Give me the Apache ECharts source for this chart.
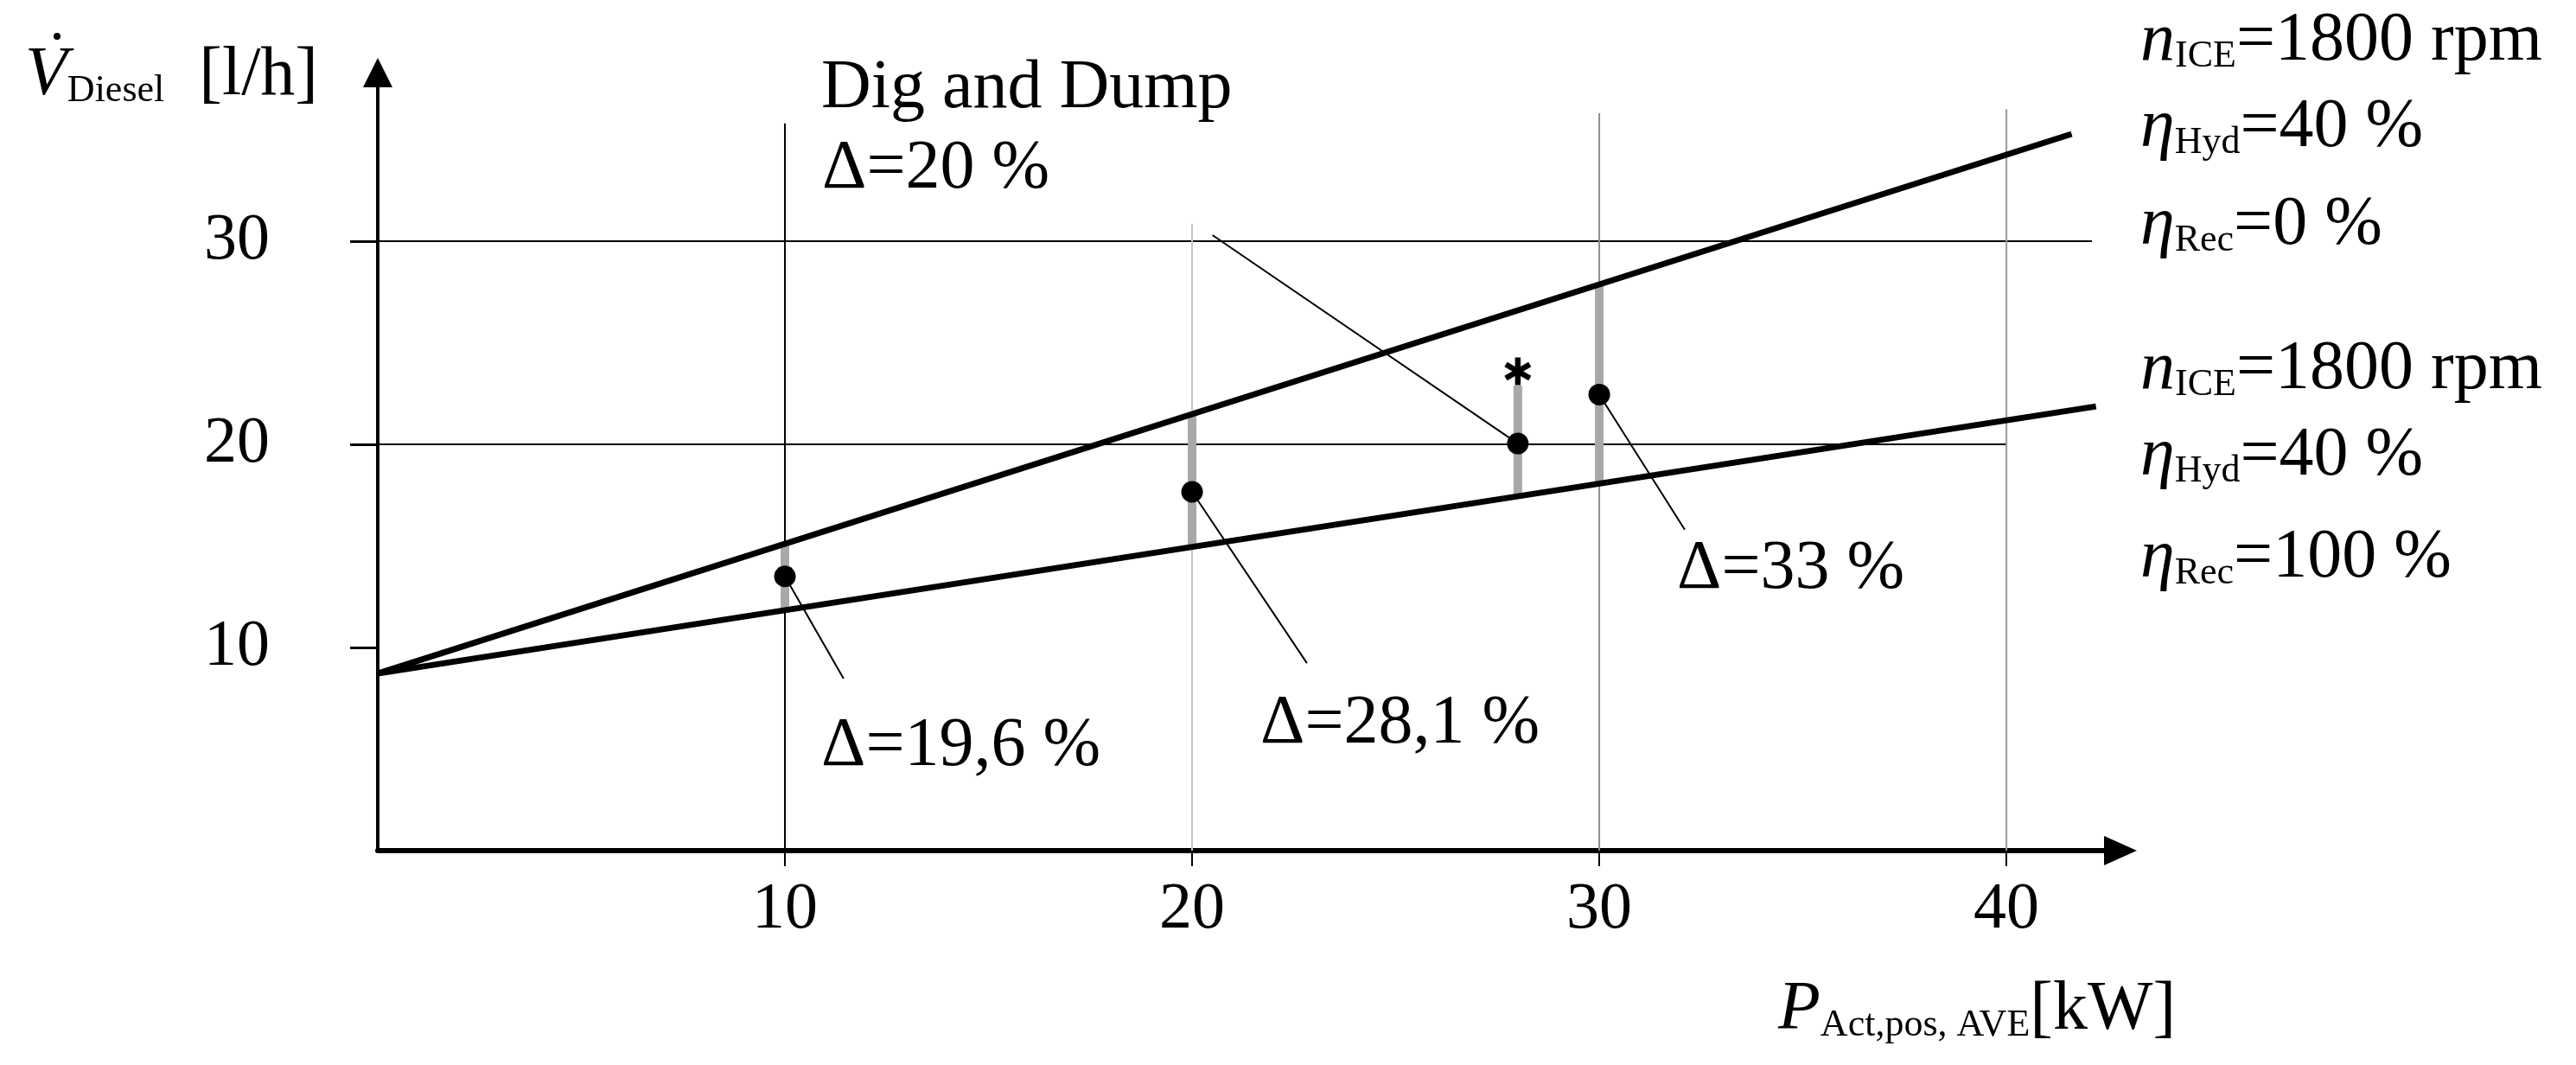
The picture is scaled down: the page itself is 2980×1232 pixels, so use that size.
<!DOCTYPE html>
<html>
<head>
<meta charset="utf-8">
<title>Dig and Dump</title>
<script src="https://cdn.jsdelivr.net/npm/echarts@6/dist/echarts.min.js"></script>
<style>
  html, body { margin: 0; padding: 0; background: #fff; }
  #chart { width: 2980px; height: 1232px; }
</style>
</head>
<body>
<div id="chart"></div>
<script>
  // tick values
  const xTicks = [10, 20, 30, 40];
  const yTicks = [10, 20, 30];

  // characteristic lines (n_ICE = 1800 rpm, eta_Hyd = 40 %)
  const powerRec0 = [0, 41.6];
  const fuelRec0 = [8.72, 35.28];
  const powerRec100 = [0, 42.2];
  const fuelRec100 = [8.72, 21.87];

  // measured cycles
  const cyclePower = [10, 20, 28, 30];
  const cycleFuel = [13.5, 17.66, 20.04, 22.45];
  const barBottom = [11.9, 15.0, 17.5, 18.0];
  const barTop = [15.1, 21.5, 22.9, 27.8];
  const starPower = 28;
  const starFuel = 23.6;

  // leader line ends (towards the delta labels)
  const leaderPower = [11.44, 22.82, 20.5, 32.1];
  const leaderFuel = [8.47, 9.23, 30.3, 15.8];

  // partial grid lines
  const hGridFuel = [20, 30];
  const hGridEnd = [40, 42.1];
  const vGridPower = [10, 20, 30, 40];
  const vGridTop = [35.8, 30.85, 36.3, 36.5];
  const vGridColor = ['#000', '#c4c4c4', '#8c8c8c', '#9a9a9a'];

  const FONT = 'Liberation Serif';
  // six armed asterisk, filled
  const STAR = 'path://M-2,-10L2,-10L2,10L-2,10Z' +
    'M7.66,-6.73L9.66,-3.27L-7.66,6.73L-9.66,3.27Z' +
    'M-9.66,-3.27L-7.66,-6.73L9.66,3.27L7.66,6.73Z';

  function seg(data, color, width, z) {
    return {
      type: 'line',
      data: data,
      symbol: 'none',
      silent: true,
      z: z,
      lineStyle: { color: color, width: width, cap: 'butt', opacity: 1 }
    };
  }

  const series = [];
  hGridFuel.forEach(function (v, i) {
    series.push(seg([[0, v], [hGridEnd[i], v]], '#000', 2, 1));
  });
  vGridPower.forEach(function (p, i) {
    series.push(seg([[p, 0], [p, vGridTop[i]]], vGridColor[i], 2, 1));
  });
  cyclePower.forEach(function (p, i) {
    series.push(seg([[p, barBottom[i]], [p, barTop[i]]], '#a8a8a8', 10, 2));
  });
  series.push(seg([[powerRec0[0], fuelRec0[0]], [powerRec0[1], fuelRec0[1]]], '#000', 7, 3));
  series.push(seg([[powerRec100[0], fuelRec100[0]], [powerRec100[1], fuelRec100[1]]], '#000', 7, 3));
  cyclePower.forEach(function (p, i) {
    series.push(seg([[p, cycleFuel[i]], [leaderPower[i], leaderFuel[i]]], '#000', 2, 3));
  });
  series.push({
    type: 'scatter',
    z: 4,
    silent: true,
    symbol: 'circle',
    symbolSize: 25,
    itemStyle: { color: '#000', opacity: 1 },
    data: cyclePower.map(function (p, i) { return [p, cycleFuel[i]]; })
  });
  series.push({
    type: 'scatter',
    z: 4,
    silent: true,
    symbol: STAR,
    symbolSize: [31, 32],
    itemStyle: { color: '#000', opacity: 1 },
    data: [[starPower, starFuel]]
  });

  const rich = {
    it: { fontFamily: FONT, fontStyle: 'italic', fontSize: 80, lineHeight: 90, color: '#000' },
    rm: { fontFamily: FONT, fontSize: 80, lineHeight: 90, color: '#000' },
    sub: { fontFamily: FONT, fontSize: 44, lineHeight: 44, padding: [34, 0, 0, 0], color: '#000' }
  };

  function label(x, y, text) {
    return {
      type: 'text',
      x: x,
      y: y,
      z: 10,
      style: { text: text, rich: rich, verticalAlign: 'middle', align: 'left', fill: '#000' }
    };
  }

  const graphics = [
    label(29, 88, '{it|V}{sub|Diesel}{rm|  [l/h]}'),
    { type: 'circle', shape: { cx: 66, cy: 42, r: 4 }, style: { fill: '#000' } },
    label(2057, 1169, '{it|P}{sub|Act,pos, AVE}{rm|[kW]}'),
    label(2476, 48, '{it|n}{sub|ICE}{rm|=1800 rpm}'),
    label(2476, 148, '{it|η}{sub|Hyd}{rm|=40 %}'),
    label(2476, 261, '{it|η}{sub|Rec}{rm|=0 %}'),
    label(2476, 428, '{it|n}{sub|ICE}{rm|=1800 rpm}'),
    label(2476, 528, '{it|η}{sub|Hyd}{rm|=40 %}'),
    label(2476, 646, '{it|η}{sub|Rec}{rm|=100 %}'),
    label(950, 103, '{rm|Dig and Dump}'),
    label(951, 196, '{rm|Δ=20 %}'),
    label(950, 864, '{rm|Δ=19,6 %}'),
    label(1458, 838, '{rm|Δ=28,1 %}'),
    label(1940, 659, '{rm|Δ=33 %}')
  ];

  const chart = echarts.init(document.getElementById('chart'));
  chart.setOption({
    animation: false,
    backgroundColor: '#fff',
    grid: { left: 437, top: 84, right: 527, bottom: 248, containLabel: false, outerBoundsMode: 'none' },
    xAxis: {
      type: 'value',
      min: 0,
      max: 42.8,
      interval: 10,
      splitLine: { show: false },
      axisLine: {
        show: true, onZero: false,
        symbol: ['none', 'triangle'], symbolSize: [34, 38],
        lineStyle: { color: '#000', width: 6 }
      },
      axisTick: { show: true, customValues: xTicks, length: 18, lineStyle: { color: '#000', width: 2 } },
      axisLabel: { customValues: xTicks, margin: 31, fontFamily: FONT, fontSize: 76, color: '#000' }
    },
    yAxis: {
      type: 'value',
      min: 0,
      max: 38.3,
      interval: 10,
      splitLine: { show: false },
      axisLine: {
        show: true, onZero: false,
        symbol: ['none', 'triangle'], symbolSize: [34, 34],
        lineStyle: { color: '#000', width: 4 }
      },
      axisTick: { show: true, customValues: yTicks, length: 32, lineStyle: { color: '#000', width: 3 } },
      axisLabel: { customValues: yTicks, margin: 125, fontFamily: FONT, fontSize: 76, color: '#000' }
    },
    graphic: graphics,
    series: series
  });
</script>
</body>
</html>
